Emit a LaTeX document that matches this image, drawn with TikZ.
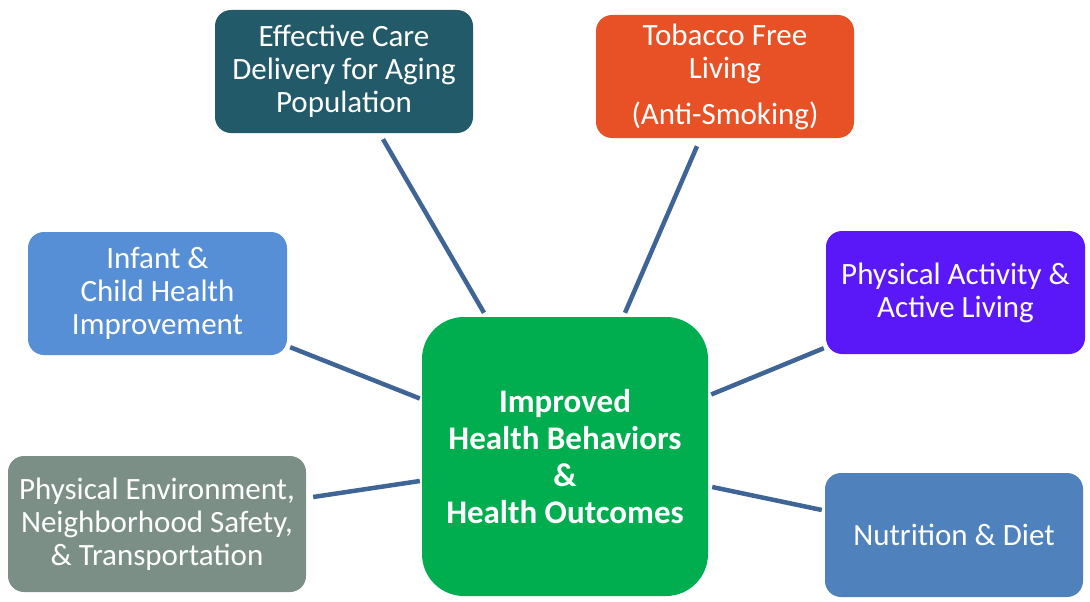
\documentclass[tikz,border=0pt]{standalone}
\usepackage{fontspec}
\setmainfont{Carlito}
\usetikzlibrary{calc}
\definecolor{cEC}{HTML}{235A69}
\definecolor{cTF}{HTML}{E85126}
\definecolor{cIN}{HTML}{578FD6}
\definecolor{cPA}{HTML}{5A17F7}
\definecolor{cPE}{HTML}{7B8F87}
\definecolor{cND}{HTML}{4F81BD}
\definecolor{cCT}{HTML}{00AE4F}
\definecolor{cLN}{HTML}{3F6597}
\tikzset{
  topic/.style={rounded corners=16pt, text=white, align=center, inner sep=0pt,
    font={\fontsize{31}{33}\selectfont}},
  hub/.style={rounded corners=42pt, text=white, align=center, inner sep=0pt,
    fill=cCT, font={\bfseries\fontsize{33}{37}\selectfont}},
  link/.style={draw=cLN, line width=4.5pt}
}
\begin{document}
\begin{tikzpicture}[x=1pt,y=-1pt]
\useasboundingbox (0,0) rectangle (1090,602);
\node[hub, minimum width=286pt, minimum height=279pt] (ctr) at (565,456.5)
  {Improved\\Health Behaviors\\\&\\Health Outcomes};
\node[topic, fill=cEC, minimum width=258pt, minimum height=123pt] (ec) at (344,71.5)
  {Effective Care\\Delivery for Aging\\Population};
\node[topic, fill=cTF, minimum width=258pt, minimum height=123pt] (tf) at (725,76.5)
  {Tobacco Free\\Living\\[13pt](Anti-Smoking)};
\node[topic, fill=cIN, minimum width=259pt, minimum height=123pt] (inf) at (157.5,293.5)
  {Infant \&\\Child Health\\Improvement};
\node[topic, fill=cPA, minimum width=259pt, minimum height=123pt] (pa) at (955.5,292.5)
  {Physical Activity \&\\Active Living};
\node[topic, fill=cPE, minimum width=298pt, minimum height=136pt] (pe) at (157,524)
  {Physical Environment,\\Neighborhood Safety,\\\& Transportation};
\node[topic, fill=cND, minimum width=258pt, minimum height=124pt] (nd) at (954,535)
  {Nutrition \& Diet};
\draw[link] ([xshift=39pt,yshift=-6pt]ec.south) -- ([xshift=-81pt,yshift=4pt]ctr.north);
\draw[link] ([xshift=-28pt,yshift=-8pt]tf.south) -- ([xshift=60pt,yshift=4pt]ctr.north);
\draw[link] ([xshift=3pt,yshift=8pt]inf.south east) -- ([xshift=-2pt,yshift=58pt]ctr.west);
\draw[link] ([xshift=-2pt,yshift=6pt]pa.south west) -- ([xshift=3pt,yshift=62pt]ctr.east);
\draw[link] ([xshift=7pt,yshift=27pt]pe.east) -- ([xshift=-2pt,yshift=-24.5pt]ctr.west);
\draw[link] ([xshift=-3pt,yshift=25pt]nd.west) -- ([xshift=4pt,yshift=-30.5pt]ctr.east);
\end{tikzpicture}
\end{document}
